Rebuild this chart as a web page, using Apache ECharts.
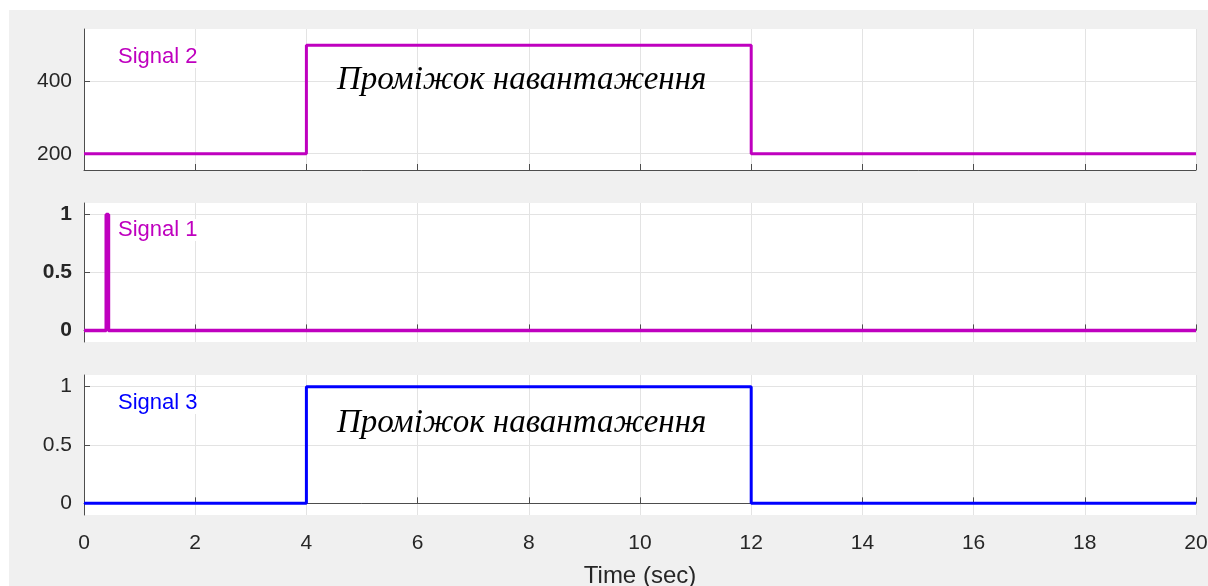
<!DOCTYPE html>
<html>
<head>
<meta charset="utf-8">
<script src="https://cdn.jsdelivr.net/npm/echarts@6/dist/echarts.min.js"></script>
<style>
html,body{margin:0;padding:0;background:#ffffff;}
#chart{position:absolute;left:9px;top:10px;width:1199px;height:576px;}
</style>
</head>
<body>
<div id="chart"></div>
<script>
// ---- data ----
const xTicks = [0, 2, 4, 6, 8, 10, 12, 14, 16, 18, 20];
const signal2Time = [0, 4, 4, 12, 12, 20];
const signal2Value = [200, 200, 500, 500, 200, 200];
const signal1Time = [0, 0.4, 0.4, 0.44, 0.44, 20];
const signal1Value = [0, 0, 1, 1, 0, 0];
const signal3Time = [0, 4, 4, 12, 12, 20];
const signal3Value = [0, 0, 1, 1, 0, 0];
const yTicksTop = [200, 400];
const yTicksUnit = [0, 0.5, 1];
const annotationText = 'Проміжок навантаження';
const xTitle = 'Time (sec)';

const pair = (t, v) => t.map((x, i) => [x, v[i]]);

const MAG = '#bf00bf';
const BLUE = '#0000ff';
const AXC = '#4d4d4d';
const GRIDC = '#e3e3e3';
const TXT = '#262626';

const L = 75, W = 1112;
const grids = [
  {left: L, width: W, top: 19, height: 141},
  {left: L, width: W, top: 193, height: 139},
  {left: L, width: W, top: 365, height: 140}
];

function xAxis(idx, showLabel) {
  return {
    type: 'value', gridIndex: idx, min: 0, max: 20, interval: 2,
    axisLine: {show: true, lineStyle: {color: AXC, width: 1}},
    axisTick: {show: true, inside: true, length: 6, lineStyle: {color: AXC}},
    axisLabel: {show: showLabel, color: TXT, fontSize: 21, fontFamily: 'Liberation Sans', margin: 18},
    splitLine: {show: true, lineStyle: {color: GRIDC, width: 1}},
    name: showLabel ? xTitle : '',
    nameLocation: 'middle', nameGap: 49,
    nameTextStyle: {color: TXT, fontSize: 24, fontFamily: 'Liberation Sans'}
  };
}
function yAxis(idx, min, max, ticks, bold) {
  return {
    type: 'value', gridIndex: idx, min: min, max: max,
    axisLine: {show: true, onZero: false, lineStyle: {color: AXC, width: 1}},
    axisTick: {show: true, inside: true, length: 6, customValues: ticks, lineStyle: {color: AXC}},
    axisLabel: {show: true, customValues: ticks, color: TXT, fontSize: 21,
      fontWeight: bold ? 'bold' : 'normal', fontFamily: 'Liberation Sans', margin: 12},
    splitLine: {show: true, lineStyle: {color: GRIDC, width: 1}}
  };
}

function label(text, x, y, color, size, italic, serif, bg) {
  return {
    type: 'text', left: x, top: y, z: 100,
    style: {
      text: text, fill: color, fontSize: size,
      fontStyle: italic ? 'italic' : 'normal',
      fontFamily: serif ? 'Liberation Serif' : 'Liberation Sans',
      backgroundColor: bg ? '#ffffff' : 'transparent',
      padding: bg ? [0, 2] : 0
    }
  };
}

const chart = echarts.init(document.getElementById('chart'), null, {renderer: 'canvas'});
const option = {
  backgroundColor: '#f0f0f0',
  animation: false,
  grid: grids.map(g => Object.assign({show: true, backgroundColor: '#ffffff', borderWidth: 0,
    containLabel: false, outerBoundsMode: 'none'}, g)),
  xAxis: [xAxis(0, false), xAxis(1, false), xAxis(2, true)],
  yAxis: [
    yAxis(0, 155, 545, yTicksTop, false),
    yAxis(1, -0.1, 1.1, yTicksUnit, true),
    yAxis(2, -0.1, 1.1, yTicksUnit, false)
  ],
  series: [
    {type: 'line', xAxisIndex: 0, yAxisIndex: 0, data: pair(signal2Time, signal2Value),
      showSymbol: false, lineStyle: {color: MAG, width: 3}},
    {type: 'line', xAxisIndex: 1, yAxisIndex: 1, data: pair(signal1Time, signal1Value),
      showSymbol: false, lineStyle: {color: MAG, width: 3.5}},
    {type: 'line', xAxisIndex: 2, yAxisIndex: 2, data: pair(signal3Time, signal3Value),
      showSymbol: false, lineStyle: {color: BLUE, width: 3}}
  ],
  graphic: [
    label('Signal 2', 107, 36, MAG, 22, false, false, true),
    label('Signal 1', 107, 209, MAG, 22, false, false, true),
    label('Signal 3', 107, 382, BLUE, 22, false, false, true),
    label(annotationText, 328, 54, '#000000', 33, true, true, false),
    label(annotationText, 328, 397, '#000000', 33, true, true, false)
  ]
};
chart.setOption(option);
</script>
</body>
</html>
